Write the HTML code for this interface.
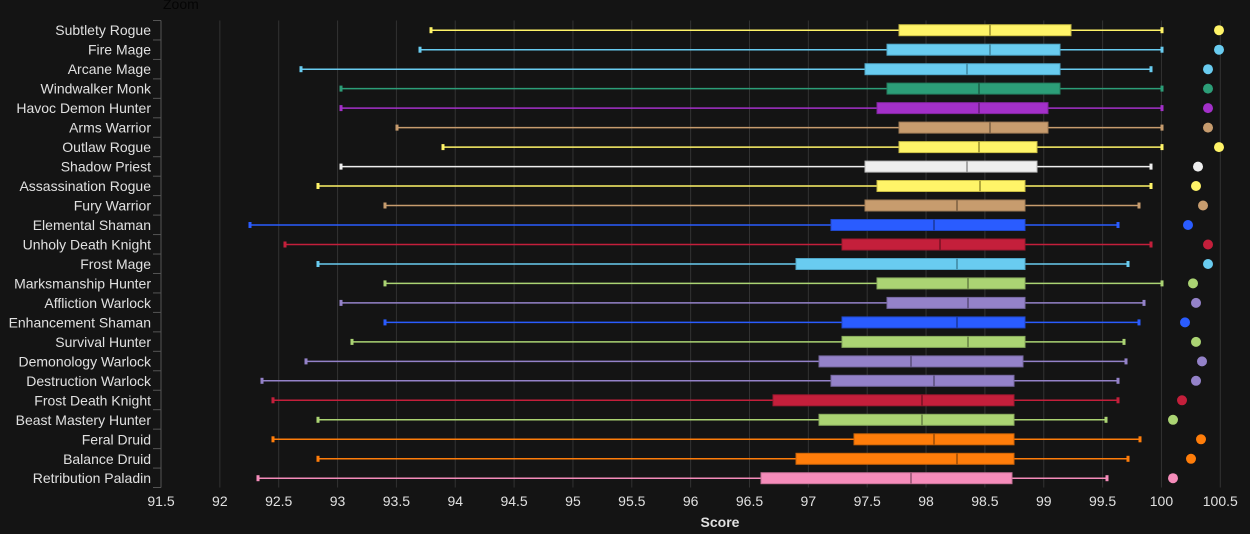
<!DOCTYPE html>
<html><head><meta charset="utf-8"><style>
html,body{margin:0;padding:0;background:#141414;}
svg{display:block;}
text{font-family:"Liberation Sans",Arial,sans-serif;}
</style></head><body>
<svg width="1250" height="534" viewBox="0 0 1250 534" xmlns="http://www.w3.org/2000/svg">
<rect width="1250" height="534" fill="#141414"/>
<text x="163" y="9" font-size="14" fill="#050505">Zoom</text>
<g stroke="#323232" stroke-width="1">
<line x1="219.85" y1="20.5" x2="219.85" y2="487.5"/><line x1="278.7" y1="20.5" x2="278.7" y2="487.5"/>
<line x1="337.55" y1="20.5" x2="337.55" y2="487.5"/><line x1="396.4" y1="20.5" x2="396.4" y2="487.5"/>
<line x1="455.25" y1="20.5" x2="455.25" y2="487.5"/><line x1="514.1" y1="20.5" x2="514.1" y2="487.5"/>
<line x1="572.95" y1="20.5" x2="572.95" y2="487.5"/><line x1="631.8" y1="20.5" x2="631.8" y2="487.5"/>
<line x1="690.65" y1="20.5" x2="690.65" y2="487.5"/><line x1="749.5" y1="20.5" x2="749.5" y2="487.5"/>
<line x1="808.35" y1="20.5" x2="808.35" y2="487.5"/><line x1="867.2" y1="20.5" x2="867.2" y2="487.5"/>
<line x1="926.05" y1="20.5" x2="926.05" y2="487.5"/><line x1="984.9" y1="20.5" x2="984.9" y2="487.5"/>
<line x1="1043.75" y1="20.5" x2="1043.75" y2="487.5"/><line x1="1102.6" y1="20.5" x2="1102.6" y2="487.5"/>
<line x1="1161.45" y1="20.5" x2="1161.45" y2="487.5"/><line x1="1220.3" y1="20.5" x2="1220.3" y2="487.5"/>
</g>
<g stroke="#555" stroke-width="1">
<line x1="161" y1="20.5" x2="161" y2="487.5"/>
<line x1="153" y1="20.5" x2="161" y2="20.5"/><line x1="153" y1="39.96" x2="161" y2="39.96"/>
<line x1="153" y1="59.42" x2="161" y2="59.42"/><line x1="153" y1="78.88" x2="161" y2="78.88"/>
<line x1="153" y1="98.34" x2="161" y2="98.34"/><line x1="153" y1="117.8" x2="161" y2="117.8"/>
<line x1="153" y1="137.26" x2="161" y2="137.26"/><line x1="153" y1="156.72" x2="161" y2="156.72"/>
<line x1="153" y1="176.18" x2="161" y2="176.18"/><line x1="153" y1="195.64" x2="161" y2="195.64"/>
<line x1="153" y1="215.1" x2="161" y2="215.1"/><line x1="153" y1="234.56" x2="161" y2="234.56"/>
<line x1="153" y1="254.02" x2="161" y2="254.02"/><line x1="153" y1="273.48" x2="161" y2="273.48"/>
<line x1="153" y1="292.94" x2="161" y2="292.94"/><line x1="153" y1="312.4" x2="161" y2="312.4"/>
<line x1="153" y1="331.86" x2="161" y2="331.86"/><line x1="153" y1="351.32" x2="161" y2="351.32"/>
<line x1="153" y1="370.78" x2="161" y2="370.78"/><line x1="153" y1="390.24" x2="161" y2="390.24"/>
<line x1="153" y1="409.7" x2="161" y2="409.7"/><line x1="153" y1="429.16" x2="161" y2="429.16"/>
<line x1="153" y1="448.62" x2="161" y2="448.62"/><line x1="153" y1="468.08" x2="161" y2="468.08"/>
<line x1="153" y1="487.5" x2="161" y2="487.5"/>
</g>
<g font-size="14" fill="#e0e0e0" text-anchor="end">
<text x="151" y="35.2">Subtlety Rogue</text>
<text x="151" y="54.7">Fire Mage</text>
<text x="151" y="74.2">Arcane Mage</text>
<text x="151" y="93.6">Windwalker Monk</text>
<text x="151" y="113.1">Havoc Demon Hunter</text>
<text x="151" y="132.6">Arms Warrior</text>
<text x="151" y="152.1">Outlaw Rogue</text>
<text x="151" y="171.6">Shadow Priest</text>
<text x="151" y="191">Assassination Rogue</text>
<text x="151" y="210.5">Fury Warrior</text>
<text x="151" y="230">Elemental Shaman</text>
<text x="151" y="249.5">Unholy Death Knight</text>
<text x="151" y="269">Frost Mage</text>
<text x="151" y="288.4">Marksmanship Hunter</text>
<text x="151" y="307.9">Affliction Warlock</text>
<text x="151" y="327.4">Enhancement Shaman</text>
<text x="151" y="346.9">Survival Hunter</text>
<text x="151" y="366.4">Demonology Warlock</text>
<text x="151" y="385.8">Destruction Warlock</text>
<text x="151" y="405.3">Frost Death Knight</text>
<text x="151" y="424.8">Beast Mastery Hunter</text>
<text x="151" y="444.3">Feral Druid</text>
<text x="151" y="463.8">Balance Druid</text>
<text x="151" y="483.2">Retribution Paladin</text>
</g>
<g font-size="14" fill="#e0e0e0" text-anchor="middle">
<text x="161" y="506">91.5</text><text x="219.85" y="506">92</text><text x="278.7" y="506">92.5</text>
<text x="337.55" y="506">93</text><text x="396.4" y="506">93.5</text><text x="455.25" y="506">94</text>
<text x="514.1" y="506">94.5</text><text x="572.95" y="506">95</text><text x="631.8" y="506">95.5</text>
<text x="690.65" y="506">96</text><text x="749.5" y="506">96.5</text><text x="808.35" y="506">97</text>
<text x="867.2" y="506">97.5</text><text x="926.05" y="506">98</text><text x="984.9" y="506">98.5</text>
<text x="1043.75" y="506">99</text><text x="1102.6" y="506">99.5</text><text x="1161.45" y="506">100</text>
<text x="1220.3" y="506">100.5</text>
<text x="720" y="527" font-weight="bold">Score</text>
</g>

<!-- rows -->
<g transform="translate(0,30.2)" fill="#fff468" stroke="#fff468">
<line x1="431" y1="0" x2="1162" y2="0" stroke-width="1.5"/><rect x="429.5" y="-3" width="3" height="6" stroke="none"/><rect x="1160.5" y="-3" width="3" height="6" stroke="none"/>
<rect x="899" y="-5.5" width="172" height="11" stroke="#c9bd45" stroke-width="1"/><line x1="990" y1="-5.5" x2="990" y2="5.5" stroke="#b3a83c" stroke-width="2"/>
<circle cx="1219" cy="0" r="5" stroke="none"/></g>

<g transform="translate(0,49.7)" fill="#69ccf0" stroke="#69ccf0">
<line x1="420" y1="0" x2="1162" y2="0" stroke-width="1.5"/><rect x="418.5" y="-3" width="3" height="6" stroke="none"/><rect x="1160.5" y="-3" width="3" height="6" stroke="none"/>
<rect x="887" y="-5.5" width="173" height="11" stroke="#4fa6c6" stroke-width="1"/><line x1="990" y1="-5.5" x2="990" y2="5.5" stroke="#4a97b3" stroke-width="2"/>
<circle cx="1219" cy="0" r="5" stroke="none"/></g>

<g transform="translate(0,69.2)" fill="#69ccf0" stroke="#69ccf0">
<line x1="301" y1="0" x2="1151" y2="0" stroke-width="1.5"/><rect x="299.5" y="-3" width="3" height="6" stroke="none"/><rect x="1149.5" y="-3" width="3" height="6" stroke="none"/>
<rect x="865" y="-5.5" width="195" height="11" stroke="#4fa6c6" stroke-width="1"/><line x1="967" y1="-5.5" x2="967" y2="5.5" stroke="#4a97b3" stroke-width="2"/>
<circle cx="1208" cy="0" r="5" stroke="none"/></g>

<g transform="translate(0,88.6)" fill="#2c9e78" stroke="#2c9e78">
<line x1="341" y1="0" x2="1162" y2="0" stroke-width="1.5"/><rect x="339.5" y="-3" width="3" height="6" stroke="none"/><rect x="1160.5" y="-3" width="3" height="6" stroke="none"/>
<rect x="887" y="-5.5" width="173" height="11" stroke="#237c5e" stroke-width="1"/><line x1="979" y1="-5.5" x2="979" y2="5.5" stroke="#1f6e54" stroke-width="2"/>
<circle cx="1208" cy="0" r="5" stroke="none"/></g>

<g transform="translate(0,108.1)" fill="#a330c9" stroke="#a330c9">
<line x1="341" y1="0" x2="1162" y2="0" stroke-width="1.5"/><rect x="339.5" y="-3" width="3" height="6" stroke="none"/><rect x="1160.5" y="-3" width="3" height="6" stroke="none"/>
<rect x="877" y="-5.5" width="171" height="11" stroke="#80269e" stroke-width="1"/><line x1="979" y1="-5.5" x2="979" y2="5.5" stroke="#73228d" stroke-width="2"/>
<circle cx="1208" cy="0" r="5" stroke="none"/></g>

<g transform="translate(0,127.6)" fill="#c79c6e" stroke="#c79c6e">
<line x1="397" y1="0" x2="1162" y2="0" stroke-width="1.5"/><rect x="395.5" y="-3" width="3" height="6" stroke="none"/><rect x="1160.5" y="-3" width="3" height="6" stroke="none"/>
<rect x="899" y="-5.5" width="149" height="11" stroke="#a07c56" stroke-width="1"/><line x1="990" y1="-5.5" x2="990" y2="5.5" stroke="#8d6e4d" stroke-width="2"/>
<circle cx="1208" cy="0" r="5" stroke="none"/></g>

<g transform="translate(0,147.1)" fill="#fff468" stroke="#fff468">
<line x1="443" y1="0" x2="1162" y2="0" stroke-width="1.5"/><rect x="441.5" y="-3" width="3" height="6" stroke="none"/><rect x="1160.5" y="-3" width="3" height="6" stroke="none"/>
<rect x="899" y="-5.5" width="138" height="11" stroke="#c9bd45" stroke-width="1"/><line x1="979" y1="-5.5" x2="979" y2="5.5" stroke="#b3a83c" stroke-width="2"/>
<circle cx="1219" cy="0" r="5" stroke="none"/></g>

<g transform="translate(0,166.6)" fill="#eeeeee" stroke="#eeeeee">
<line x1="341" y1="0" x2="1151" y2="0" stroke-width="1.5"/><rect x="339.5" y="-3" width="3" height="6" stroke="none"/><rect x="1149.5" y="-3" width="3" height="6" stroke="none"/>
<rect x="865" y="-5.5" width="172" height="11" stroke="#bbbbbb" stroke-width="1"/><line x1="967" y1="-5.5" x2="967" y2="5.5" stroke="#a8a8a8" stroke-width="2"/>
<circle cx="1198" cy="0" r="5" stroke="none"/></g>

<g transform="translate(0,186)" fill="#fff468" stroke="#fff468">
<line x1="318" y1="0" x2="1151" y2="0" stroke-width="1.5"/><rect x="316.5" y="-3" width="3" height="6" stroke="none"/><rect x="1149.5" y="-3" width="3" height="6" stroke="none"/>
<rect x="877" y="-5.5" width="148" height="11" stroke="#c9bd45" stroke-width="1"/><line x1="980" y1="-5.5" x2="980" y2="5.5" stroke="#b3a83c" stroke-width="2"/>
<circle cx="1196" cy="0" r="5" stroke="none"/></g>

<g transform="translate(0,205.5)" fill="#c79c6e" stroke="#c79c6e">
<line x1="385" y1="0" x2="1139" y2="0" stroke-width="1.5"/><rect x="383.5" y="-3" width="3" height="6" stroke="none"/><rect x="1137.5" y="-3" width="3" height="6" stroke="none"/>
<rect x="865" y="-5.5" width="160" height="11" stroke="#a07c56" stroke-width="1"/><line x1="957" y1="-5.5" x2="957" y2="5.5" stroke="#8d6e4d" stroke-width="2"/>
<circle cx="1203" cy="0" r="5" stroke="none"/></g>

<g transform="translate(0,225)" fill="#2a5cff" stroke="#2a5cff">
<line x1="250" y1="0" x2="1118" y2="0" stroke-width="1.5"/><rect x="248.5" y="-3" width="3" height="6" stroke="none"/><rect x="1116.5" y="-3" width="3" height="6" stroke="none"/>
<rect x="831" y="-5.5" width="194" height="11" stroke="#2149cc" stroke-width="1"/><line x1="934" y1="-5.5" x2="934" y2="5.5" stroke="#1e41b3" stroke-width="2"/>
<circle cx="1188" cy="0" r="5" stroke="none"/></g>

<g transform="translate(0,244.5)" fill="#c41f3b" stroke="#c41f3b">
<line x1="285" y1="0" x2="1151" y2="0" stroke-width="1.5"/><rect x="283.5" y="-3" width="3" height="6" stroke="none"/><rect x="1149.5" y="-3" width="3" height="6" stroke="none"/>
<rect x="842" y="-5.5" width="183" height="11" stroke="#9c182f" stroke-width="1"/><line x1="940" y1="-5.5" x2="940" y2="5.5" stroke="#8a1529" stroke-width="2"/>
<circle cx="1208" cy="0" r="5" stroke="none"/></g>

<g transform="translate(0,264)" fill="#69ccf0" stroke="#69ccf0">
<line x1="318" y1="0" x2="1128" y2="0" stroke-width="1.5"/><rect x="316.5" y="-3" width="3" height="6" stroke="none"/><rect x="1126.5" y="-3" width="3" height="6" stroke="none"/>
<rect x="796" y="-5.5" width="229" height="11" stroke="#4fa6c6" stroke-width="1"/><line x1="957" y1="-5.5" x2="957" y2="5.5" stroke="#4a97b3" stroke-width="2"/>
<circle cx="1208" cy="0" r="5" stroke="none"/></g>

<g transform="translate(0,283.4)" fill="#abd473" stroke="#abd473">
<line x1="385" y1="0" x2="1162" y2="0" stroke-width="1.5"/><rect x="383.5" y="-3" width="3" height="6" stroke="none"/><rect x="1160.5" y="-3" width="3" height="6" stroke="none"/>
<rect x="877" y="-5.5" width="148" height="11" stroke="#88aa5c" stroke-width="1"/><line x1="968" y1="-5.5" x2="968" y2="5.5" stroke="#789650" stroke-width="2"/>
<circle cx="1193" cy="0" r="5" stroke="none"/></g>

<g transform="translate(0,302.9)" fill="#9482c9" stroke="#9482c9">
<line x1="341" y1="0" x2="1144" y2="0" stroke-width="1.5"/><rect x="339.5" y="-3" width="3" height="6" stroke="none"/><rect x="1142.5" y="-3" width="3" height="6" stroke="none"/>
<rect x="887" y="-5.5" width="138" height="11" stroke="#7668a0" stroke-width="1"/><line x1="968" y1="-5.5" x2="968" y2="5.5" stroke="#685b8d" stroke-width="2"/>
<circle cx="1196" cy="0" r="5" stroke="none"/></g>

<g transform="translate(0,322.4)" fill="#2a5cff" stroke="#2a5cff">
<line x1="385" y1="0" x2="1139" y2="0" stroke-width="1.5"/><rect x="383.5" y="-3" width="3" height="6" stroke="none"/><rect x="1137.5" y="-3" width="3" height="6" stroke="none"/>
<rect x="842" y="-5.5" width="183" height="11" stroke="#2149cc" stroke-width="1"/><line x1="957" y1="-5.5" x2="957" y2="5.5" stroke="#1e41b3" stroke-width="2"/>
<circle cx="1185" cy="0" r="5" stroke="none"/></g>

<g transform="translate(0,341.9)" fill="#abd473" stroke="#abd473">
<line x1="352" y1="0" x2="1124" y2="0" stroke-width="1.5"/><rect x="350.5" y="-3" width="3" height="6" stroke="none"/><rect x="1122.5" y="-3" width="3" height="6" stroke="none"/>
<rect x="842" y="-5.5" width="183" height="11" stroke="#88aa5c" stroke-width="1"/><line x1="968" y1="-5.5" x2="968" y2="5.5" stroke="#789650" stroke-width="2"/>
<circle cx="1196" cy="0" r="5" stroke="none"/></g>

<g transform="translate(0,361.4)" fill="#9482c9" stroke="#9482c9">
<line x1="306" y1="0" x2="1126" y2="0" stroke-width="1.5"/><rect x="304.5" y="-3" width="3" height="6" stroke="none"/><rect x="1124.5" y="-3" width="3" height="6" stroke="none"/>
<rect x="819" y="-5.5" width="204" height="11" stroke="#7668a0" stroke-width="1"/><line x1="911" y1="-5.5" x2="911" y2="5.5" stroke="#685b8d" stroke-width="2"/>
<circle cx="1202" cy="0" r="5" stroke="none"/></g>

<g transform="translate(0,380.8)" fill="#9482c9" stroke="#9482c9">
<line x1="262" y1="0" x2="1118" y2="0" stroke-width="1.5"/><rect x="260.5" y="-3" width="3" height="6" stroke="none"/><rect x="1116.5" y="-3" width="3" height="6" stroke="none"/>
<rect x="831" y="-5.5" width="183" height="11" stroke="#7668a0" stroke-width="1"/><line x1="934" y1="-5.5" x2="934" y2="5.5" stroke="#685b8d" stroke-width="2"/>
<circle cx="1196" cy="0" r="5" stroke="none"/></g>

<g transform="translate(0,400.3)" fill="#c41f3b" stroke="#c41f3b">
<line x1="273" y1="0" x2="1118" y2="0" stroke-width="1.5"/><rect x="271.5" y="-3" width="3" height="6" stroke="none"/><rect x="1116.5" y="-3" width="3" height="6" stroke="none"/>
<rect x="773" y="-5.5" width="241" height="11" stroke="#9c182f" stroke-width="1"/><line x1="922" y1="-5.5" x2="922" y2="5.5" stroke="#8a1529" stroke-width="2"/>
<circle cx="1182" cy="0" r="5" stroke="none"/></g>

<g transform="translate(0,419.8)" fill="#abd473" stroke="#abd473">
<line x1="318" y1="0" x2="1106" y2="0" stroke-width="1.5"/><rect x="316.5" y="-3" width="3" height="6" stroke="none"/><rect x="1104.5" y="-3" width="3" height="6" stroke="none"/>
<rect x="819" y="-5.5" width="195" height="11" stroke="#88aa5c" stroke-width="1"/><line x1="922" y1="-5.5" x2="922" y2="5.5" stroke="#789650" stroke-width="2"/>
<circle cx="1173" cy="0" r="5" stroke="none"/></g>

<g transform="translate(0,439.3)" fill="#ff7d0a" stroke="#ff7d0a">
<line x1="273" y1="0" x2="1140" y2="0" stroke-width="1.5"/><rect x="271.5" y="-3" width="3" height="6" stroke="none"/><rect x="1138.5" y="-3" width="3" height="6" stroke="none"/>
<rect x="854" y="-5.5" width="160" height="11" stroke="#cc6408" stroke-width="1"/><line x1="934" y1="-5.5" x2="934" y2="5.5" stroke="#b35807" stroke-width="2"/>
<circle cx="1201" cy="0" r="5" stroke="none"/></g>

<g transform="translate(0,458.8)" fill="#ff7d0a" stroke="#ff7d0a">
<line x1="318" y1="0" x2="1128" y2="0" stroke-width="1.5"/><rect x="316.5" y="-3" width="3" height="6" stroke="none"/><rect x="1126.5" y="-3" width="3" height="6" stroke="none"/>
<rect x="796" y="-5.5" width="218" height="11" stroke="#cc6408" stroke-width="1"/><line x1="957" y1="-5.5" x2="957" y2="5.5" stroke="#b35807" stroke-width="2"/>
<circle cx="1191" cy="0" r="5" stroke="none"/></g>

<g transform="translate(0,478.2)" fill="#f58cba" stroke="#f58cba">
<line x1="258" y1="0" x2="1107" y2="0" stroke-width="1.5"/><rect x="256.5" y="-3" width="3" height="6" stroke="none"/><rect x="1105.5" y="-3" width="3" height="6" stroke="none"/>
<rect x="761" y="-5.5" width="251" height="11" stroke="#c47095" stroke-width="1"/><line x1="911" y1="-5.5" x2="911" y2="5.5" stroke="#ac6283" stroke-width="2"/>
<circle cx="1173" cy="0" r="5" stroke="none"/></g>
</svg>
</body></html>
